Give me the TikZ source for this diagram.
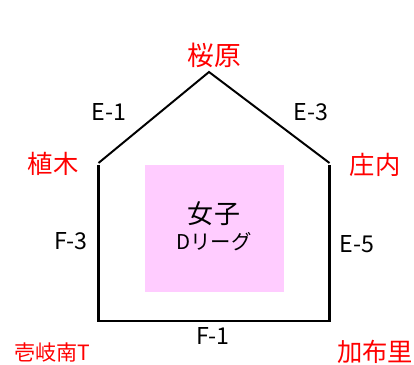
\documentclass[tikz,border=0pt]{standalone}
\usepackage{fontspec}
\setmainfont{Noto Sans CJK JP}
\usepackage{tikz}
\usetikzlibrary{positioning,calc}

\definecolor{boardpink}{RGB}{255,204,255}

\begin{document}
\begin{tikzpicture}
[
	x=0.025cm, y=-0.025cm,
	place/.style={text=red, inner sep=0pt, font=\fontsize{18}{18}\selectfont},
	route/.style={inner sep=0pt, font=\fontsize{16.5}{16.5}\selectfont},
	roof/.style={line width=1.4pt},
	wall/.style={line width=2.1pt},
]
	\useasboundingbox (0,0) rectangle (414,365);

	\begin{scope}
		\node[fill=boardpink, minimum width=3.475cm, minimum height=3.175cm, inner sep=0pt] (board) at (214.5, 228.5){};
		\node[inner sep=0pt, font=\fontsize{18.5}{18.5}\selectfont] (women) at (214, 214){女子};
		\node[inner sep=0pt, font=\fontsize{14.5}{14.5}\selectfont] (league) at (214, 242){Dリーグ};
	\end{scope}

	\begin{scope}
		\coordinate (apex) at (209, 72);
		\coordinate (lt) at (98.5, 163);
		\coordinate (rt) at (329.5, 163);
		\coordinate (lw) at (98.5, 165);
		\coordinate (rw) at (329.5, 165);
		\coordinate (lb) at (98.5, 321);
		\coordinate (rb) at (329.5, 321);

		\draw[roof] (lt) -- (apex) -- (rt);
		\draw[wall] (lw) -- (lb) -- (rb) -- (rw);
	\end{scope}

	\begin{scope}
		\node[place, font=\fontsize{19}{19}\selectfont] (sakurabaru) at (214, 55){桜原};
		\node[place] (ueki) at (53, 164){植木};
		\node[place] (shonai) at (375, 165){庄内};
		\node[place] (kafuri) at (375, 352){加布里};
		\node[place, font=\fontsize{15}{15}\selectfont] (ikiminami) at (52, 352){壱岐南T};

		\node[route] (e1) at (109, 112){E-1};
		\node[route] (e3) at (311, 112){E-3};
		\node[route] (f3) at (71, 241){F-3};
		\node[route] (e5) at (357, 244){E-5};
		\node[route] (f1) at (213, 336){F-1};
	\end{scope}
\end{tikzpicture}
\end{document}
